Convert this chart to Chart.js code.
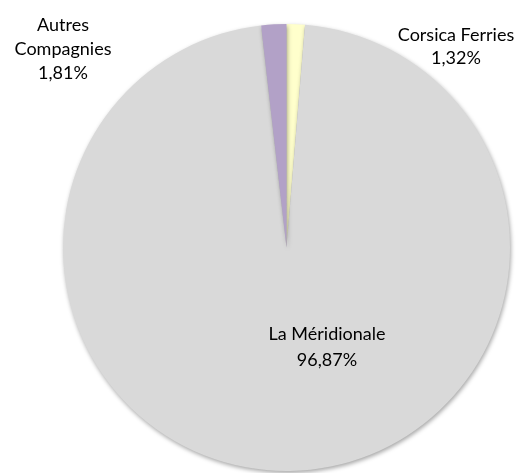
<!DOCTYPE html>
<html>
<head>
<meta charset="utf-8">
<script src="https://cdn.jsdelivr.net/npm/chart.js@4"></script>
<style>
  html, body { margin: 0; padding: 0; background: #fff; }
  #wrap { width: 526px; height: 473px; position: relative; }
</style>
</head>
<body>
<div id="wrap"><canvas id="pie"></canvas></div>
<script>
// ─── Data ───────────────────────────────────────────────────

const labels = ['Corsica Ferries', 'La Méridionale', 'Autres Compagnies'];
const shares = [1.32, 96.87, 1.81];
const sliceColors = ['#FFFFCC', '#D9D9D9', '#B2A1C7'];

// label text lines and anchor (center x, first line middle y) per slice
const labelLines = [
  ['Corsica Ferries', '1,32%'],
  ['La Méridionale', '96,87%'],
  ['Autres', 'Compagnies', '1,81%'],
];
const labelPos = [
  { x: 456, y: 35, lh: 23 },
  { x: 327, y: 334, lh: 26 },
  { x: 63, y: 25, lh: 24 },
];

// ─── Plugins ────────────────────────────────────────────────

const shadowPlugin = {
  id: 'shadow',
  beforeDatasetDraw(chart) {
    const ctx = chart.ctx;
    ctx.save();
    ctx.shadowColor = 'rgba(0,0,0,0.35)';
    ctx.shadowBlur = 4;
    ctx.shadowOffsetX = 1;
    ctx.shadowOffsetY = 2;
  },
  afterDatasetDraw(chart) {
    chart.ctx.restore();
  },
};

const labelPlugin = {
  id: 'sliceLabels',
  afterDraw(chart) {
    const ctx = chart.ctx;
    ctx.save();
    ctx.fillStyle = '#000';
    ctx.font = '18px Lato, "Open Sans", sans-serif';
    ctx.textAlign = 'center';
    ctx.textBaseline = 'middle';
    labelLines.forEach((lines, i) => {
      const p = labelPos[i];
      lines.forEach((t, j) => ctx.fillText(t, p.x, p.y + j * p.lh));
    });
    ctx.restore();
  },
};

// ─── Chart ──────────────────────────────────────────────────

new Chart(document.getElementById('pie'), {
  type: 'pie',
  data: {
    labels: labels,
    datasets: [{
      data: shares,
      backgroundColor: sliceColors,
      borderWidth: 0,
    }],
  },
  options: {
    responsive: true,
    maintainAspectRatio: false,
    animation: false,
    layout: { padding: { top: 24, bottom: 2, left: 63, right: 16 } },
    plugins: {
      legend: { display: false },
      tooltip: { enabled: false },
    },
  },
  plugins: [shadowPlugin, labelPlugin],
});
</script>
</body>
</html>
